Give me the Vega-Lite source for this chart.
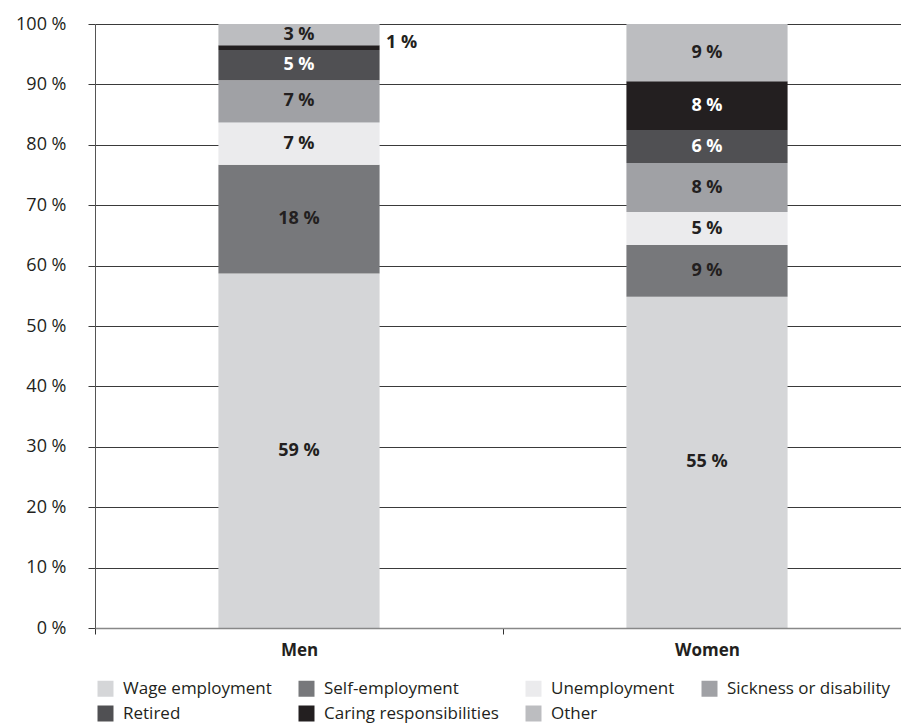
{
  "$schema": "https://vega.github.io/schema/vega-lite/v6.json",
  "width": 816,
  "height": 604,
  "autosize": "none",
  "padding": {"left": 95, "top": 24, "right": 0, "bottom": 96},
  "background": "white",
  "config": {"font": "Open Sans", "view": {"stroke": null}},
  "data": {
    "values": [
      {"group": "Men", "cat": "Wage employment", "k": 1, "value": 58.7, "label": "59 %"},
      {"group": "Men", "cat": "Self-employment", "k": 2, "value": 18.0, "label": "18 %"},
      {"group": "Men", "cat": "Unemployment", "k": 3, "value": 7.0, "label": "7 %"},
      {"group": "Men", "cat": "Sickness or disability", "k": 4, "value": 7.0, "label": "7 %"},
      {"group": "Men", "cat": "Retired", "k": 5, "value": 5.0, "label": "5 %"},
      {"group": "Men", "cat": "Caring responsibilities", "k": 6, "value": 0.8, "label": "1 %"},
      {"group": "Men", "cat": "Other", "k": 7, "value": 3.5, "label": "3 %"},
      {"group": "Women", "cat": "Wage employment", "k": 1, "value": 54.85, "label": "55 %"},
      {"group": "Women", "cat": "Self-employment", "k": 2, "value": 8.56, "label": "9 %"},
      {"group": "Women", "cat": "Unemployment", "k": 3, "value": 5.46, "label": "5 %"},
      {"group": "Women", "cat": "Sickness or disability", "k": 4, "value": 8.1, "label": "8 %"},
      {"group": "Women", "cat": "Retired", "k": 5, "value": 5.46, "label": "6 %"},
      {"group": "Women", "cat": "Caring responsibilities", "k": 6, "value": 8.1, "label": "8 %"},
      {"group": "Women", "cat": "Other", "k": 7, "value": 9.47, "label": "9 %"}
    ]
  },
  "transform": [
    {"stack": "value", "groupby": ["group"], "sort": [{"field": "k", "order": "ascending"}], "as": ["v0", "v1"]},
    {"calculate": "(datum.v0 + datum.v1) / 2", "as": "mid"}
  ],
  "encoding": {
    "x": {
      "field": "group", "type": "nominal", "sort": ["Men", "Women"], "title": null,
      "scale": {"paddingInner": 0, "paddingOuter": 0},
      "axis": {
        "labelAngle": 0, "tickBand": "extent", "domainColor": "#888888", "domainWidth": 1.5,
        "tickColor": "#333333", "tickSize": 6, "labelFont": "Open Sans", "labelFontWeight": "bold",
        "labelFontSize": 17, "labelColor": "#231f20", "labelPadding": 8, "grid": false, "zindex": 1
      }
    }
  },
  "layer": [
    {
      "mark": {"type": "bar", "width": {"band": 0.395}},
      "encoding": {
        "y": {
          "field": "v0", "type": "quantitative", "title": null,
          "scale": {"domain": [0, 100], "nice": false},
          "axis": {
            "values": [0, 10, 20, 30, 40, 50, 60, 70, 80, 90, 100],
            "labelExpr": "datum.value + ' %'",
            "grid": true, "gridColor": "#3a3a3a", "gridWidth": 1,
            "tickSize": 7, "tickColor": "#3a3a3a", "domainColor": "#555555",
            "labelFont": "Open Sans", "labelFontSize": 18, "labelColor": "#231f20", "labelPadding": 22
          }
        },
        "y2": {"field": "v1"},
        "color": {
          "field": "cat", "type": "nominal",
          "scale": {
            "domain": ["Wage employment", "Self-employment", "Unemployment", "Sickness or disability", "Retired", "Caring responsibilities", "Other"],
            "range": ["#d5d6d8", "#77787b", "#ebebed", "#a0a1a5", "#505053", "#231f20", "#bcbdc0"]
          },
          "legend": {
            "orient": "none", "legendX": 2, "legendY": 656, "direction": "horizontal",
            "columns": 4, "gridAlign": "each", "symbolType": "square", "symbolSize": 256,
            "symbolStrokeWidth": 0, "labelFont": "Open Sans", "labelFontSize": 17, "labelColor": "#231f20",
            "labelOffset": 9, "columnPadding": 26, "rowPadding": 7, "title": null, "labelLimit": 300
          }
        }
      }
    },
    {
      "transform": [{"filter": "datum.value >= 2"}],
      "mark": {"type": "text", "fontWeight": "bold", "fontSize": 18, "baseline": "middle", "font": "Open Sans"},
      "encoding": {
        "y": {"field": "mid", "type": "quantitative"},
        "text": {"field": "label"},
        "color": {
          "condition": {"test": "datum.cat === 'Retired' || datum.cat === 'Caring responsibilities'", "value": "#ffffff"},
          "value": "#231f20"
        }
      }
    },
    {
      "transform": [{"filter": "datum.value < 2"}],
      "mark": {"type": "text", "fontWeight": "bold", "fontSize": 18, "baseline": "middle", "align": "left", "dx": 87, "dy": -5, "font": "Open Sans", "color": "#231f20"},
      "encoding": {
        "y": {"field": "mid", "type": "quantitative"},
        "text": {"field": "label"}
      }
    }
  ]
}
